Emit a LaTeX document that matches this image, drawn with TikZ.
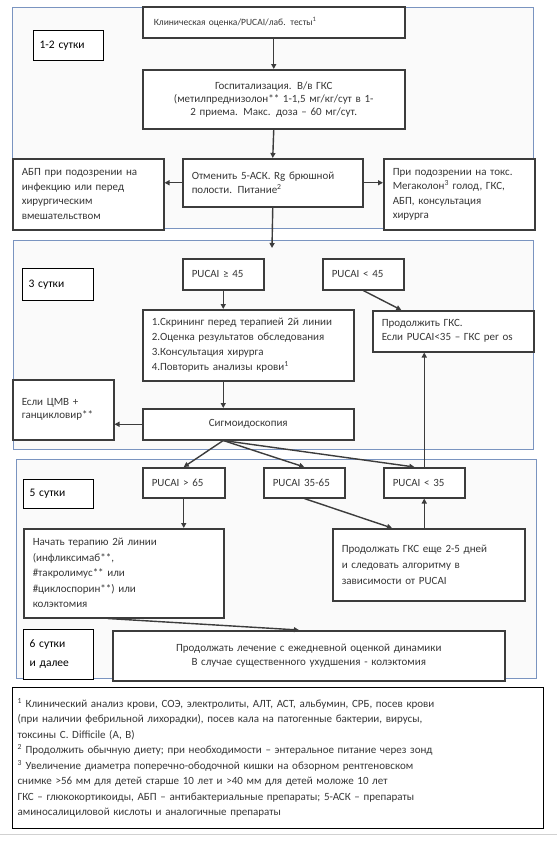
\documentclass[tikz,border=0pt]{standalone}
\usepackage{fontspec}
\setmainfont{Carlito}
\usepackage{tikz}
\usetikzlibrary{positioning,arrows.meta,fit,calc}
\usepackage{xcolor}
\definecolor{panelblue}{RGB}{122,148,192}
\definecolor{boxgray}{RGB}{60,60,60}
\definecolor{textgray}{RGB}{55,55,55}

\begin{document}
\begin{tikzpicture}[x=1pt, y=-1pt,
    panel/.style={draw=panelblue, line width=0.8pt, fill=black!2, inner sep=0pt},
    stepbox/.style={draw=boxgray, line width=1.5pt, fill=white, text=textgray, anchor=north west, align=left, inner xsep=9pt, inner ysep=2pt, font=\fontsize{11}{14}\selectfont},
    daybox/.style={draw=black, line width=1.1pt, fill=white, text=black, anchor=north west, align=left, inner xsep=6pt, inner ysep=2pt, font=\fontsize{11.5}{19}\selectfont},
    arr/.style={-{Triangle[length=5pt,width=5pt]}, line width=1.4pt, draw=boxgray},
]
\useasboundingbox (0,0) rectangle (557,844);

% ===== PANELS =====
\node[panel, fit={(12,7) (533,228)}] (panelA) {};
\node[panel, fit={(13,240) (533,449)}] (panelB) {};
\node[panel, fit={(16,459) (536,678)}] (panelC) {};

% ===== 1-2 DAYS =====
\node[stepbox, text width=240pt, inner xsep=11pt, minimum height=31pt, font=\fontsize{9.5}{12}\selectfont] (clin) at (142,6) {Клиническая оценка/PUCAI/лаб. тесты\textsuperscript{1}};
\node[daybox, text width=58pt, minimum height=30pt] (d12) at (33,30) {1-2 сутки};
\node[stepbox, text width=244pt, minimum height=59pt, align=center, font=\fontsize{11}{13}\selectfont] (hosp) at (142,69) {Госпитализация. В/в ГКС\\(метилпреднизолон** 1-1,5 мг/кг/сут в 1-\\2 приема. Макс. доза -- 60 мг/сут.};
\node[stepbox, text width=162pt, minimum height=48pt] (stop) at (182,158) {Отменить 5-АСК. Rg брюшной\\полости. Питание\textsuperscript{2}};
\node[stepbox, text width=133pt, minimum height=71pt, font=\fontsize{11}{14.5}\selectfont] (abp) at (12,158) {АБП при подозрении на\\инфекцию или перед\\хирургическим\\вмешательством};
\node[stepbox, text width=133pt, minimum height=71pt, font=\fontsize{11}{14.5}\selectfont] (mega) at (383,158) {При подозрении на токс.\\Мегаколон\textsuperscript{3} голод, ГКС,\\АБП, консультация\\хирурга};

% ===== 3 DAYS =====
\node[daybox, text width=59pt, minimum height=32pt] (d3) at (22,268) {3 сутки};
\node[stepbox, text width=63pt, minimum height=31pt] (pucaiHi) at (182,258) {PUCAI ≥ 45};
\node[stepbox, text width=63pt, minimum height=31pt] (pucaiLo) at (322,258) {PUCAI < 45};
\node[stepbox, text width=193pt, minimum height=71pt, font=\fontsize{11}{15}\selectfont] (screen) at (142,309) {1.Скрининг перед терапией 2й линии\\2.Оценка результатов обследования\\3.Консультация хирурга\\4.Повторить анализы крови\textsuperscript{1}};
\node[stepbox, text width=143pt, minimum height=41pt] (contin) at (372,310) {Продолжить ГКС.\\Если PUCAI<35 -- ГКС per os};
\node[stepbox, text width=83pt, minimum height=60pt, font=\fontsize{11}{13}\selectfont] (cmv) at (12,379) {Если ЦМВ +\\ганцикловир**};
\node[stepbox, text width=193pt, minimum height=31pt, align=center] (sigmo) at (142,408) {Сигмоидоскопия};

% ===== 5 DAYS AND LATER =====
\node[daybox, text width=58pt, minimum height=29pt] (d5) at (23,479) {5 сутки};
\node[stepbox, text width=64pt, minimum height=30pt] (pHi) at (142,467) {PUCAI > 65};
\node[stepbox, text width=63pt, minimum height=30pt] (pMid) at (263,467) {PUCAI 35-65};
\node[stepbox, text width=63pt, minimum height=30pt] (pLo) at (383,467) {PUCAI < 35};
\node[stepbox, text width=182pt, minimum height=89pt, font=\fontsize{11}{15.5}\selectfont] (second) at (23,528) {Начать терапию 2й линии\\(инфликсимаб**,\\\#такролимус** или\\\#циклоспорин**) или\\колэктомия};
\node[stepbox, text width=174pt, minimum height=72pt, font=\fontsize{11}{16}\selectfont] (keep) at (332,528) {Продолжать ГКС еще 2-5 дней\\и следовать алгоритму в\\зависимости от PUCAI};
\node[daybox, text width=58pt, minimum height=50pt] (d6) at (23,629) {6 сутки\\и далее};
\node[stepbox, text width=374pt, minimum height=50pt, align=center, font=\fontsize{11}{14.5}\selectfont] (follow) at (112,630) {Продолжать лечение с ежедневной оценкой динамики\\В случае существенного ухудшения - колэктомия};

% ===== NOTES =====
\node[stepbox, draw=black, line width=1.1pt, text width=521pt, inner xsep=5pt, minimum height=141pt, font=\fontsize{11}{15.5}\selectfont] (notes) at (12,687) {\textsuperscript{1} Клинический анализ крови, СОЭ, электролиты, АЛТ, АСТ, альбумин, СРБ, посев крови\\(при наличии фебрильной лихорадки), посев кала на патогенные бактерии, вирусы,\\токсины C. Difficile (A, B)\\\textsuperscript{2} Продолжить обычную диету; при необходимости -- энтеральное питание через зонд\\\textsuperscript{3} Увеличение диаметра поперечно-ободочной кишки на обзорном рентгеновском\\снимке >56 мм для детей старше 10 лет и >40 мм для детей моложе 10 лет\\ГКС -- глюкокортикоиды, АБП -- антибактериальные препараты; 5-АСК -- препараты\\аминосалициловой кислоты и аналогичные препараты};
\draw[black!18, line width=0.8pt] (0,834) -- (557,834);

% ===== ARROWS =====
\draw[arr] (clin.south) -- (hosp.north);
\draw[arr] (hosp.south) -- (stop.north);
\draw[arr] (stop.west) -- (abp.east |- stop.west);
\draw[arr] (stop.east) -- (mega.west |- stop.east);
\coordinate (entry3) at (272,248);
\draw[arr] (stop.south) -- (entry3);
\draw[arr] (pucaiHi.south) -- (pucaiHi.south |- screen.north);
\draw[arr] (pucaiLo.south) -- ($(contin.north west)!0.18!(contin.north east)$);
\draw[arr] (screen.south -| pucaiHi.south) -- (sigmo.north -| pucaiHi.south);
\draw[arr] (sigmo.west) -- (cmv.east |- sigmo.west);
\draw[arr] (sigmo.south -| pucaiHi.south) -- (pHi.north);
\draw[arr] (sigmo.south -| pucaiHi.south) -- (pMid.north);
\draw[arr] (sigmo.south -| pucaiHi.south) -- ($(pLo.north west)!0.38!(pLo.north east)$);
\draw[arr] (pLo.north) -- (pLo.north |- contin.south);
\draw[arr] (pHi.south) -- (pHi.south |- second.north);
\draw[arr] (pMid.south) -- ($(keep.north west)!0.31!(keep.north east)$);
\draw[arr] (keep.north -| pLo.south) -- (pLo.south);
\draw[arr] ($(second.south west)!0.42!(second.south east)$) -- ($(follow.north west)!0.475!(follow.north east)$);

\end{tikzpicture}
\end{document}
